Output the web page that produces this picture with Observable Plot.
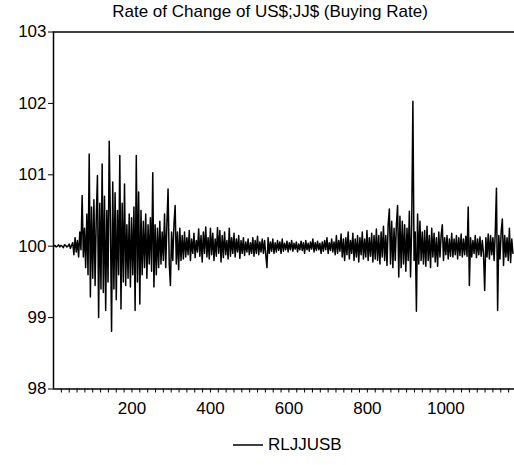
<!DOCTYPE html>
<html>
<head>
<meta charset="utf-8">
<script src="https://cdn.jsdelivr.net/npm/d3@7"></script>
<script src="https://cdn.jsdelivr.net/npm/@observablehq/plot@0.6"></script>
<style>
  html, body { margin: 0; padding: 0; background: #fff; }
  body { width: 514px; height: 465px; overflow: hidden; font-family: "Liberation Sans", Arial, sans-serif; color: #000; }
  #title { width: 514px; box-sizing: border-box; padding-left: 26px; height: 24px; line-height: 24px; text-align: center; font-size: 17px; }
  #legend { display: flex; align-items: center; justify-content: flex-start; padding-left: 233px; height: 22px; margin-top: 10px; font-size: 17px; }
  #legend svg { margin-right: 5px; }
</style>
</head>
<body>
<div id="title"></div>
<div id="chart"></div>
<div id="legend"></div>
<script>
const titleText = "Rate of Change of US$;JJ$ (Buying Rate)";
const seriesName = "RLJJUSB";
const dayStep = 3;
const yTicks = [98, 99, 100, 101, 102, 103];
const xLabels = [200, 400, 600, 800, 1000];
const xMinorTicks = d3.range(20, 1175, 20);

const values = [
  100.00, 100.01, 99.99, 100.00, 100.02, 99.99, 100.01, 100.00, 99.98, 100.02,
  100.01, 99.99, 100.00, 100.03, 99.97, 100.01,
  100.05, 99.88, 100.12, 99.92, 100.08, 99.85, 100.20, 99.95,
  100.71, 99.85, 100.25, 99.70, 100.45, 99.60, 101.29, 99.29, 100.55, 99.55,
  100.65, 99.45, 100.40, 100.99, 99.00, 100.60, 99.40, 101.15, 99.35, 100.70,
  99.10, 100.50, 99.50, 101.47, 100.35, 98.81, 100.90, 99.40, 100.75, 99.25,
  100.50, 99.60, 101.27, 99.12, 100.60, 99.50, 100.87, 99.45, 100.30, 99.55,
  100.45, 99.43, 100.40, 99.60, 100.55, 99.10, 101.27, 99.50, 100.76, 99.19,
  100.50, 99.60, 100.35, 99.70, 100.45, 99.55, 100.30, 99.75, 100.40, 99.65,
  101.03, 99.43, 100.30, 99.60, 100.25, 99.70, 100.35, 99.75, 100.20, 99.80,
  100.45, 99.70, 100.30, 100.80, 99.75, 99.45, 100.20, 99.80, 100.30, 100.57,
  99.75, 100.20, 99.67, 100.25, 99.80, 100.15,
  99.82, 100.20, 99.85, 100.12, 99.88, 100.22, 99.80, 100.10, 99.90, 100.18,
  99.84, 100.08, 99.92, 100.24, 99.86, 100.15, 99.78, 100.20, 99.90, 100.27,
  99.85, 100.12, 99.82, 100.25, 99.88, 100.18, 99.80, 100.10, 99.86, 100.26,
  99.90, 100.22, 99.78, 100.15, 99.84, 100.20, 99.88, 100.08, 99.82, 100.25,
  99.86, 100.12, 99.90, 100.18, 99.85, 100.10, 99.92, 100.15, 99.83, 100.08,
  99.90, 100.12, 99.87, 100.06, 99.92, 100.10, 99.88, 100.05, 99.90, 100.12,
  99.86, 100.08, 99.90, 100.14, 99.88, 100.06, 99.92,
  100.10, 99.90, 100.08, 99.88, 99.70, 100.12, 99.90, 100.06, 99.93, 100.10,
  99.90, 100.05, 99.92, 100.08, 99.94, 100.06, 99.90, 100.10, 99.93, 100.04,
  99.95, 100.07, 99.92,
  100.05, 99.95, 100.08, 99.93, 100.04, 99.96, 100.06, 99.92, 100.03, 99.95,
  100.07, 99.94, 100.05, 99.90, 100.08, 99.95, 100.04, 99.93, 100.06, 99.96,
  100.10, 99.92, 100.05, 99.94, 100.07, 99.95, 100.04, 99.90, 100.06, 99.93,
  100.08, 99.95, 100.12, 99.90, 100.05, 99.94, 100.10, 99.92, 100.06, 99.88,
  100.15, 99.90, 100.08, 99.93,
  100.17, 99.85, 100.10, 99.80, 100.12, 99.88, 100.20, 99.82, 100.08, 99.90,
  100.18, 99.80, 100.10, 99.85, 100.15, 99.78, 100.12, 99.88, 100.20, 99.82,
  100.10, 99.85, 100.22, 99.80, 100.12, 99.86, 100.18, 99.78, 100.15, 99.82,
  100.24, 99.80, 100.15, 99.75, 100.20, 99.85, 100.28, 99.80, 100.15, 99.73,
  100.30, 100.52, 99.75, 100.35, 99.70, 100.25, 99.80, 100.30, 100.57, 99.57,
  100.42, 99.70, 100.35, 99.75, 100.30, 99.65, 100.25, 99.80, 100.49, 99.57,
  100.30, 102.03, 99.80, 100.20, 99.09, 100.45, 99.75, 100.35, 99.80, 100.20,
  99.75, 100.22, 99.72, 100.28, 99.80, 100.15, 99.70, 100.25, 99.85, 100.18,
  99.78, 100.12, 99.72, 100.20, 99.85, 100.15, 100.30, 99.80, 100.12, 99.88,
  100.15, 99.82, 100.10, 99.86, 100.18, 99.85, 100.10, 99.88, 100.15, 99.82,
  100.12, 99.87, 100.17, 99.85, 100.10, 99.88, 100.14, 99.86, 100.55, 99.45,
  100.12, 99.85, 100.08, 99.90, 100.15, 99.84, 100.10, 99.88, 100.13, 99.86,
  100.08, 99.90, 99.38, 100.12, 99.85, 100.17, 99.82, 100.15, 99.88, 100.12,
  99.80, 100.20, 100.81, 99.10, 100.15, 99.82, 100.20, 100.38, 99.73, 100.15,
  99.85, 100.12, 99.80, 100.25, 99.77, 100.10, 99.90
];

const data = values.map((v, i) => ({t: 1 + dayStep * i, v}));

document.getElementById("title").textContent = titleText;

const chart = Plot.plot({
  width: 514,
  height: 400,
  marginTop: 7.5,
  marginBottom: 35.5,
  marginLeft: 53,
  marginRight: 0,
  style: {fontFamily: "'Liberation Sans', Arial, sans-serif", fontSize: "17px", color: "#000", background: "#fff", overflow: "visible"},
  x: {domain: [0, 1175]},
  y: {domain: [98, 103]},
  marks: [
    Plot.axisY({ticks: yTicks, tickSize: 5, tickPadding: 2, tickFormat: d => String(d), label: null, fontSize: 17}),
    Plot.axisX({ticks: xMinorTicks, tickSize: 4, tickFormat: () => "", label: null}),
    Plot.axisX({ticks: xLabels, tickSize: 0, tickPadding: 13, tickFormat: d => String(d), label: null, fontSize: 17}),
    Plot.ruleX([0], {stroke: "#000", strokeWidth: 1.5}),
    Plot.ruleY([98], {stroke: "#000", strokeWidth: 1.5}),
    Plot.ruleY([103], {stroke: "#000", strokeWidth: 1.5}),
    Plot.line(data, {x: "t", y: "v", stroke: "#000", strokeWidth: 1.5})
  ]
});
document.getElementById("chart").appendChild(chart);

const legend = document.getElementById("legend");
legend.innerHTML = `<svg width="30" height="4"><line x1="0" y1="2" x2="30" y2="2" stroke="#000" stroke-width="1.5"/></svg><span>${seriesName}</span>`;
</script>
</body>
</html>
